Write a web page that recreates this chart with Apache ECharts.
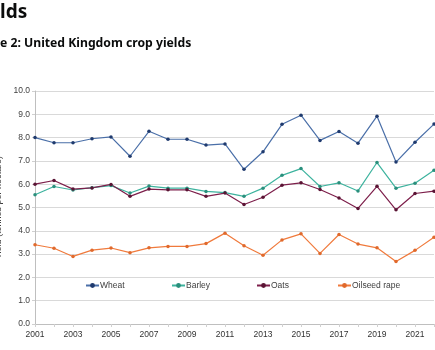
<!DOCTYPE html>
<html>
<head>
<meta charset="utf-8">
<script src="https://cdn.jsdelivr.net/npm/echarts@6/dist/echarts.min.js"></script>
<style>
  html, body { margin: 0; padding: 0; background: #fff; }
  #chart { width: 435px; height: 350px; }
</style>
</head>
<body>
<div id="chart"></div>
<script>
// years on the x axis
const years = ['2001', '2002', '2003', '2004', '2005', '2006', '2007', '2008', '2009', '2010', '2011',
  '2012', '2013', '2014', '2015', '2016', '2017', '2018', '2019', '2020', '2021', '2022'];

// yields, tonnes per hectare
const wheat = [8.0, 7.78, 7.78, 7.95, 8.03, 7.2, 8.27, 7.93, 7.93, 7.68, 7.73,
  6.64, 7.39, 8.57, 8.96, 7.88, 8.26, 7.76, 8.92, 6.95, 7.8, 8.58];
const barley = [5.55, 5.9, 5.75, 5.85, 5.94, 5.62, 5.92, 5.83, 5.83, 5.69, 5.64,
  5.48, 5.83, 6.38, 6.67, 5.9, 6.06, 5.71, 6.93, 5.83, 6.04, 6.6];
const oats = [6.0, 6.16, 5.79, 5.84, 5.99, 5.48, 5.79, 5.76, 5.76, 5.48, 5.62,
  5.13, 5.44, 5.96, 6.06, 5.77, 5.41, 4.96, 5.91, 4.9, 5.6, 5.7];
const oilseed = [3.4, 3.25, 2.9, 3.17, 3.26, 3.06, 3.27, 3.33, 3.33, 3.45, 3.9,
  3.36, 2.95, 3.61, 3.87, 3.03, 3.84, 3.43, 3.27, 2.68, 3.16, 3.72];

const seriesNames = ['Wheat', 'Barley', 'Oats', 'Oilseed rape'];
const seriesColors = ['#4a6fa8', '#3db39e', '#7d1f4b', '#f07a3c'];
const markerColors = ['#1f3a6e', '#2a8f7c', '#5a1434', '#e0692c'];

const chart = echarts.init(document.getElementById('chart'));

const font = 'Liberation Sans, Arial, sans-serif';

// excel style legend: one column per item
const legendLeft = [85, 171, 256, 337];
const legends = seriesNames.map((name, i) => ({
  data: [name],
  left: legendLeft[i],
  top: 281,
  padding: 0,
  itemWidth: 13,
  itemHeight: 6,
  itemGap: 0,
  textStyle: { fontFamily: font, fontSize: 8.5, color: '#404040', padding: [0, 0, 0, -4] }
}));

const seriesData = [wheat, barley, oats, oilseed];

const option = {
  animation: false,
  backgroundColor: '#fff',
  title: [
    {
      text: 'lds',
      left: 0,
      top: 3,
      padding: 0,
      textStyle: { fontFamily: 'Noto Sans', fontWeight: 'bold', fontSize: 19, color: '#0b0c0c' }
    },
    {
      text: 'e 2: United Kingdom crop yields',
      left: 0,
      top: 38,
      padding: 0,
      textStyle: { fontFamily: 'Noto Sans', fontWeight: 'bold', fontSize: 12.2, color: '#0b0c0c' }
    }
  ],
  legend: legends,
  // the picture is cropped, so don't let echarts pull the name back inside
  grid: { left: 35, right: 1, top: 91, bottom: 26, outerBoundsMode: 'none' },
  xAxis: {
    type: 'category',
    boundaryGap: false,
    data: years,
    axisLine: { lineStyle: { color: '#bfbfbf', width: 1 } },
    axisTick: { show: true, interval: 0, length: 3, lineStyle: { color: '#d0d0d0' } },
    axisLabel: { interval: 1, fontFamily: font, fontSize: 8.5, color: '#333', margin: 6 },
    splitLine: { show: false }
  },
  yAxis: {
    type: 'value',
    min: 0,
    max: 10,
    interval: 1,
    name: 'Yield (tonnes per hectare)',
    nameLocation: 'middle',
    nameGap: 29,
    nameTextStyle: { fontFamily: font, fontSize: 9, color: '#404040' },
    axisLine: { show: true, lineStyle: { color: '#bfbfbf', width: 1 } },
    axisTick: { show: true, length: 3, lineStyle: { color: '#d0d0d0' } },
    axisLabel: {
      fontFamily: font, fontSize: 8.5, color: '#404040', margin: 5,
      formatter: v => v.toFixed(1)
    },
    splitLine: { lineStyle: { color: '#d9d9d9', width: 1 } }
  },
  series: seriesNames.map((name, i) => ({
    name: name,
    type: 'line',
    data: seriesData[i],
    symbol: 'circle',
    symbolSize: 3.5,
    lineStyle: { color: seriesColors[i], width: 1.2 },
    itemStyle: { color: markerColors[i] },
    emphasis: { disabled: true }
  }))
};

chart.setOption(option);
</script>
</body>
</html>
